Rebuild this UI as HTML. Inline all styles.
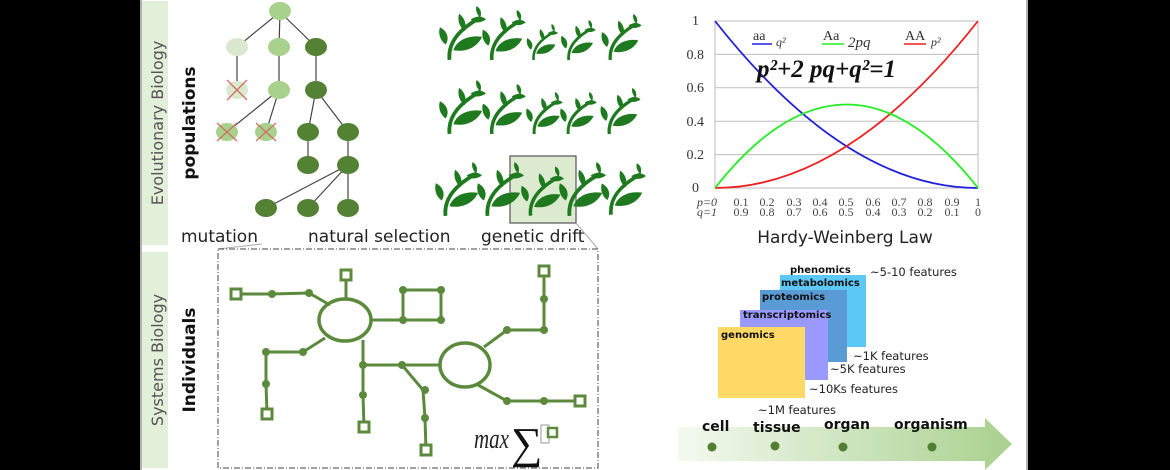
<!DOCTYPE html>
<html><head><meta charset="utf-8"><style>
html,body{margin:0;padding:0;background:#000;}
svg{display:block;}
text{font-family:"DejaVu Sans","Liberation Sans",sans-serif;}
text.s{font-family:"Liberation Serif","DejaVu Serif",serif;}
</style></head><body>
<svg width="1170" height="470" viewBox="0 0 1170 470" xmlns="http://www.w3.org/2000/svg">
<defs>
<symbol id="pl" viewBox="0 0 50 56">
<path d="M12,56 C10,38 22,24 44,12" stroke="#1f7a1f" stroke-width="4" fill="none"/>
<path d="M16,46 C20,34 34,30 46,32 C40,44 28,48 16,46Z" fill="#1f7a1f"/>
<path d="M2,22 C10,26 12,34 8,40 C2,36 0,28 2,22Z" fill="#1f7a1f"/>
<path d="M22,8 C28,12 30,20 28,26 C22,22 20,14 22,8Z" fill="#1f7a1f"/>
<path d="M34,14 C40,10 46,10 50,14 C44,18 38,18 34,14Z" fill="#1f7a1f"/>
<path d="M40,0 C44,2 46,6 44,12 C40,8 39,4 40,0Z" fill="#1f7a1f"/>
</symbol>
<linearGradient id="ar" x1="0" x2="1"><stop offset="0" stop-color="#f4f9f0"/><stop offset="1" stop-color="#a9d18e"/></linearGradient>
</defs>
<rect x="140" y="0" width="888" height="470" fill="#fff"/>
<rect x="142" y="1" width="26" height="244" fill="#e2efd9"/>
<rect x="142" y="252" width="26" height="216" fill="#e2efd9"/>
<line x1="141" y1="0" x2="141" y2="470" stroke="#999" stroke-width="1.5"/>
<text transform="translate(163,123) rotate(-90)" text-anchor="middle" font-size="16" fill="#555">Evolutionary Biology</text>
<text transform="translate(195,123) rotate(-90)" text-anchor="middle" font-size="17" font-weight="bold" fill="#111">populations</text>
<text transform="translate(163,360) rotate(-90)" text-anchor="middle" font-size="16" fill="#555">Systems Biology</text>
<text transform="translate(195,360) rotate(-90)" text-anchor="middle" font-size="17" font-weight="bold" fill="#111">Individuals</text>
<g stroke="#444" stroke-width="1.2">
<line x1="280" y1="12" x2="237" y2="47"/><line x1="280" y1="12" x2="279" y2="47"/><line x1="280" y1="12" x2="316" y2="47"/>
<line x1="237" y1="47" x2="237" y2="90"/><line x1="279" y1="47" x2="279" y2="90"/><line x1="316" y1="47" x2="316" y2="90"/>
<line x1="279" y1="90" x2="227" y2="132"/><line x1="279" y1="90" x2="266" y2="132"/>
<line x1="316" y1="90" x2="308" y2="132"/><line x1="316" y1="90" x2="348" y2="132"/>
<line x1="308" y1="132" x2="308" y2="165"/><line x1="348" y1="132" x2="348" y2="165"/>
<line x1="348" y1="165" x2="266" y2="208"/><line x1="348" y1="165" x2="308" y2="208"/><line x1="348" y1="165" x2="348" y2="208"/>
</g>
<g fill="#a9d18e"><ellipse cx="280" cy="11" rx="11" ry="9"/><ellipse cx="279" cy="47" rx="11" ry="9"/><ellipse cx="279" cy="90" rx="11" ry="9"/><ellipse cx="227" cy="132" rx="11" ry="9"/><ellipse cx="266" cy="132" rx="11" ry="9"/></g>
<g fill="#dbe8d0"><ellipse cx="237" cy="47" rx="11" ry="9"/><ellipse cx="237" cy="90" rx="11" ry="9"/></g>
<g fill="#548235"><ellipse cx="316" cy="47" rx="11" ry="9"/><ellipse cx="316" cy="90" rx="11" ry="9"/><ellipse cx="308" cy="132" rx="11" ry="9"/><ellipse cx="348" cy="132" rx="11" ry="9"/><ellipse cx="308" cy="165" rx="11" ry="9"/><ellipse cx="348" cy="165" rx="11" ry="9"/><ellipse cx="266" cy="208" rx="11" ry="9"/><ellipse cx="308" cy="208" rx="11" ry="9"/><ellipse cx="348" cy="208" rx="11" ry="9"/></g>
<g stroke="#d07060" stroke-width="1.3"><path d="M227,80 L247,100 M247,80 L227,100 M217,123 L237,141 M237,123 L217,141 M256,123 L276,141 M276,123 L256,141"/></g>
<rect x="510" y="156" width="66" height="67" fill="#dcebd0" stroke="#555" stroke-width="1.2"/>
<g>
<use href="#pl" x="438" y="6" width="48" height="54"/><use href="#pl" x="481" y="10" width="45" height="50"/><use href="#pl" x="524" y="24" width="36" height="36"/><use href="#pl" x="558" y="20" width="40" height="40"/><use href="#pl" x="598" y="14" width="46" height="46"/>
<use href="#pl" x="438" y="80" width="48" height="54"/><use href="#pl" x="481" y="84" width="45" height="50"/><use href="#pl" x="524" y="92" width="40" height="42"/><use href="#pl" x="558" y="92" width="40" height="42"/><use href="#pl" x="598" y="88" width="44" height="46"/>
<use href="#pl" x="434" y="162" width="48" height="54"/><use href="#pl" x="476" y="162" width="48" height="54"/><use href="#pl" x="520" y="166" width="44" height="50"/><use href="#pl" x="558" y="162" width="48" height="54"/><use href="#pl" x="600" y="162" width="46" height="54"/>
</g>
<text x="181" y="242" font-size="17" fill="#222">mutation</text>
<text x="308" y="242" font-size="17" fill="#222">natural selection</text>
<text x="481" y="242" font-size="17" fill="#222">genetic drift</text>
<line x1="262" y1="244" x2="218" y2="249" stroke="#aaa"/><line x1="576" y1="223" x2="598" y2="249" stroke="#aaa"/>
<rect x="218" y="249" width="380" height="219" fill="none" stroke="#444" stroke-width="1" stroke-dasharray="6,2,1,2"/>
<g stroke="#5b8a3c" stroke-width="3" fill="none">
<polyline points="236,294 272,294 309,293 330,305"/>
<line x1="346" y1="275" x2="346" y2="300"/>
<polyline points="371,320 403,320 403,290 441,290 441,320 403,320"/>
<polyline points="325,338 303,352 266,352 266,384 267,414"/>
<polyline points="363,340 363,365 363,395 364,427"/>
<polyline points="363,365 402,365 423,390 425,418 426,450"/>
<line x1="402" y1="365" x2="440" y2="365"/>
<polyline points="484,347 507,330 544,330 544,299 544,271"/>
<polyline points="478,385 507,401 544,401 580,401"/>
<ellipse cx="345" cy="320" rx="26" ry="21" stroke-width="3.5"/>
<ellipse cx="465" cy="365" rx="25" ry="22" stroke-width="3.5"/>
</g>
<g fill="#5b8a3c"><circle cx="272" cy="294" r="4"/><circle cx="309" cy="293" r="4"/><circle cx="403" cy="320" r="4"/><circle cx="403" cy="290" r="4"/><circle cx="441" cy="290" r="4"/><circle cx="441" cy="320" r="4"/><circle cx="303" cy="352" r="4"/><circle cx="266" cy="352" r="4"/><circle cx="266" cy="384" r="4"/><circle cx="363" cy="365" r="4"/><circle cx="363" cy="395" r="4"/><circle cx="402" cy="365" r="4"/><circle cx="425" cy="390" r="4"/><circle cx="425" cy="418" r="4"/><circle cx="507" cy="330" r="4"/><circle cx="544" cy="330" r="4"/><circle cx="544" cy="299" r="4"/><circle cx="507" cy="401" r="4"/><circle cx="544" cy="401" r="4"/></g>
<g fill="#fff" stroke="#5b8a3c" stroke-width="3"><rect x="231" y="289" width="10" height="10"/><rect x="341" y="270" width="10" height="10"/><rect x="262" y="409" width="10" height="10"/><rect x="359" y="422" width="10" height="10"/><rect x="421" y="445" width="10" height="10"/><rect x="539" y="266" width="10" height="10"/><rect x="575" y="396" width="10" height="10"/></g>
<text class="s" x="0" y="0" font-style="italic" font-size="28" fill="#222" transform="translate(474,448) scale(0.75,1)">max</text>
<text class="s" x="511" y="458" font-size="44" fill="#111">∑</text>
<rect x="541" y="425" width="8" height="18" fill="#fff" stroke="#999"/><rect x="548" y="428" width="9" height="9" fill="#fff" stroke="#5b8a3c" stroke-width="2.5"/>
<g stroke="#bbb" stroke-width="1"><line x1="715" y1="21" x2="978" y2="21"/><line x1="715" y1="54.4" x2="978" y2="54.4"/><line x1="715" y1="87.8" x2="978" y2="87.8"/><line x1="715" y1="121.2" x2="978" y2="121.2"/><line x1="715" y1="154.6" x2="978" y2="154.6"/><line x1="715" y1="188" x2="978" y2="188"/><line x1="715" y1="21" x2="715" y2="188"/><line x1="978" y1="21" x2="978" y2="188"/></g>
<g fill="none" stroke-width="1.8">
<path d="M715,21 Q846.5,188 978,188" stroke="#2020dd"/>
<path d="M715,188 Q846.5,188 978,21" stroke="#ee2020"/>
<path d="M715,188 Q846.5,21 978,188" stroke="#22ee22"/>
</g>
<g font-size="14" fill="#333" text-anchor="end">
<text class="s" x="699" y="25">1</text><text class="s" x="704" y="59">0.8</text><text class="s" x="704" y="92">0.6</text><text class="s" x="704" y="126">0.4</text><text class="s" x="704" y="159">0.2</text><text class="s" x="699" y="192">0</text>
</g>
<g font-size="12" fill="#444" text-anchor="middle">
<text class="s" x="707" y="206" font-style="italic">p=0</text><text class="s" x="707" y="216" font-style="italic">q=1</text>
<text class="s" x="741" y="206">0.1</text><text class="s" x="741" y="216">0.9</text><text class="s" x="767" y="206">0.2</text><text class="s" x="767" y="216">0.8</text><text class="s" x="794" y="206">0.3</text><text class="s" x="794" y="216">0.7</text><text class="s" x="820" y="206">0.4</text><text class="s" x="820" y="216">0.6</text><text class="s" x="846" y="206">0.5</text><text class="s" x="846" y="216">0.5</text><text class="s" x="873" y="206">0.6</text><text class="s" x="873" y="216">0.4</text><text class="s" x="899" y="206">0.7</text><text class="s" x="899" y="216">0.3</text><text class="s" x="925" y="206">0.8</text><text class="s" x="925" y="216">0.2</text><text class="s" x="952" y="206">0.9</text><text class="s" x="952" y="216">0.1</text><text class="s" x="978" y="206">1</text><text class="s" x="978" y="216">0</text>
</g>
<text x="845" y="243" font-size="17" fill="#222" text-anchor="middle">Hardy-Weinberg Law</text>
<g font-size="14" fill="#333">
<text class="s" x="753" y="40">aa</text><line x1="752" y1="44" x2="772" y2="44" stroke="#2020dd" stroke-width="1.5"/><text class="s" x="776" y="46" font-style="italic" font-size="12">q²</text>
<text class="s" x="823" y="40">Aa</text><line x1="822" y1="44" x2="844" y2="44" stroke="#22ee22" stroke-width="1.5"/><text class="s" x="848" y="47" font-style="italic" font-size="15">2pq</text>
<text class="s" x="905" y="40">AA</text><line x1="904" y1="44" x2="926" y2="44" stroke="#ee2020" stroke-width="1.5"/><text class="s" x="931" y="46" font-style="italic" font-size="12">p²</text>
</g>
<text class="s" x="757" y="77" font-size="25" font-weight="bold" font-style="italic" fill="#111">p²+2 pq+q²=1</text>
<rect x="780" y="275" width="86" height="72" fill="#5bc8f5"/>
<rect x="760" y="290" width="87" height="72" fill="#5b9bd5"/>
<rect x="740" y="310" width="88" height="70" fill="#9999ff"/>
<rect x="718" y="327" width="87" height="71" fill="#ffd966"/>
<g font-size="10" font-weight="bold" fill="#111">
<text x="790" y="273">phenomics</text><text x="781" y="286">metabolomics</text><text x="762" y="300">proteomics</text><text x="743" y="318">transcriptomics</text><text x="721" y="338">genomics</text>
</g>
<g font-size="11.5" fill="#222">
<text x="870" y="276">~5-10 features</text><text x="853" y="360">~1K features</text><text x="830" y="373">~5K features</text><text x="809" y="393">~10Ks features</text><text x="758" y="414">~1M features</text>
</g>
<polygon points="678,427 985,427 985,418 1012,444 985,470 985,461 678,461" fill="url(#ar)"/>
<g font-size="14" font-weight="bold" fill="#111"><text x="702" y="431">cell</text><text x="753" y="432">tissue</text><text x="824" y="429">organ</text><text x="894" y="429">organism</text></g>
<g fill="#4f7f2f"><circle cx="712" cy="447" r="4.5"/><circle cx="775" cy="446" r="4.5"/><circle cx="843" cy="447" r="4.5"/><circle cx="932" cy="447" r="4.5"/></g>
<line x1="1027" y1="0" x2="1027" y2="470" stroke="#666" stroke-width="1"/>
</svg>
</body></html>
